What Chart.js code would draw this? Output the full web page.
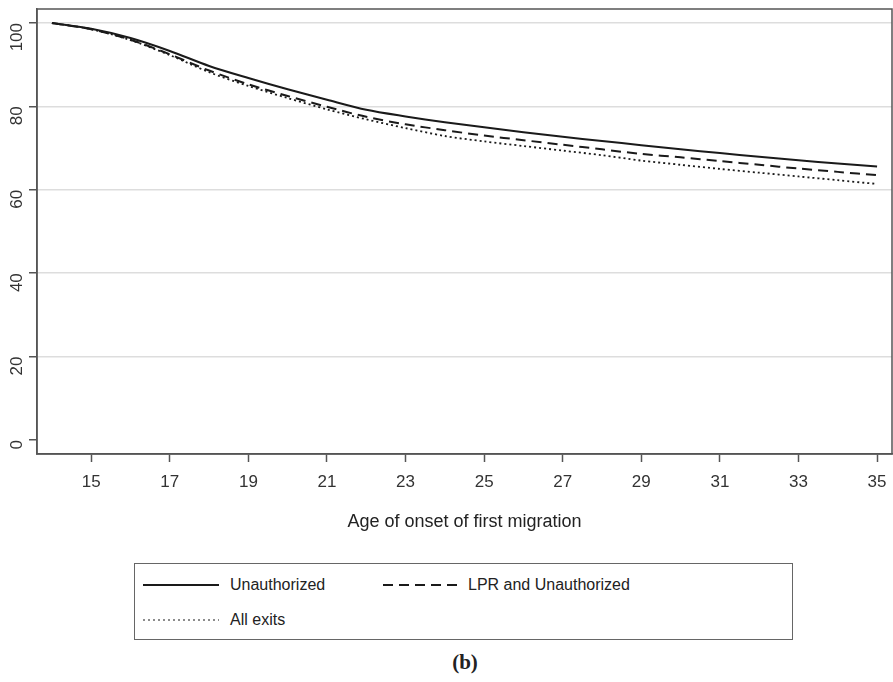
<!DOCTYPE html>
<html>
<head>
<meta charset="utf-8">
<script src="https://cdn.jsdelivr.net/npm/chart.js@4.4.1/dist/chart.umd.min.js"></script>
<style>
  body { margin: 0; background: #fff; font-family: "Liberation Sans", Arial, sans-serif; }
  #wrap { position: relative; width: 893px; height: 682px; }
  #chart { position: absolute; left: 0; top: 0; }
  #legend { position: absolute; left: 134px; top: 563px; width: 659px; height: 77px;
    border: 1px solid #666; box-sizing: border-box; }
  .item { position: absolute; font-size: 16px; color: #222; line-height: 20px; }
  .item svg { position: absolute; top: 0; }
  #caption { position: absolute; left: 0; width: 930px; top: 650px; text-align: center;
    font-family: "Liberation Serif", "Times New Roman", serif; font-weight: bold; font-size: 21px; color: #222; }
</style>
</head>
<body>
<div id="wrap">
  <canvas id="chart" width="893" height="545"></canvas>
  <div id="legend"></div>
  <div id="caption">(b)</div>
</div>
<script>
const ages = [14, 15, 16, 17, 18, 19, 20, 21, 22, 23, 24, 25, 26, 27, 28, 29, 30, 31, 32, 33, 34, 35];
const unauthorized = [100, 98.6, 96.4, 93.3, 89.7, 86.8, 84.1, 81.6, 79.2, 77.6, 76.2, 75.0, 73.8, 72.7, 71.7, 70.7, 69.7, 68.8, 67.9, 67.1, 66.3, 65.6];
const lprUnauthorized = [100, 98.5, 96.0, 92.5, 88.6, 85.3, 82.5, 79.9, 77.5, 75.7, 74.3, 73.0, 71.9, 70.8, 69.7, 68.6, 67.8, 66.9, 66.0, 65.1, 64.3, 63.5];
const allExits = [100, 98.5, 95.9, 92.3, 88.2, 84.9, 82.0, 79.3, 76.9, 74.8, 72.9, 71.6, 70.5, 69.4, 68.3, 67.0, 66.0, 65.0, 64.1, 63.2, 62.3, 61.4];

const xTicks = [15, 17, 19, 21, 23, 25, 27, 29, 31, 33, 35];
const yTicks = [0, 20, 40, 60, 80, 100];

const seriesNames = ["Unauthorized", "LPR and Unauthorized", "All exits"];
const seriesDash = [[], [10, 6], [2, 3]];

const toPoints = (vals) => vals.map((v, i) => ({ x: ages[i], y: v }));

const frame = {
  id: "frame",
  afterDraw(chart) {
    const { ctx, chartArea: a } = chart;
    ctx.save();
    ctx.strokeStyle = "#555";
    ctx.lineWidth = 1.5;
    ctx.strokeRect(a.left, a.top, a.right - a.left, a.bottom - a.top);
    ctx.restore();
  },
};

new Chart(document.getElementById("chart"), {
  type: "line",
  data: {
    datasets: [unauthorized, lprUnauthorized, allExits].map((vals, i) => ({
      label: seriesNames[i],
      data: toPoints(vals),
      borderColor: "#1a1a1a",
      borderWidth: i === 2 ? 1.8 : 2,
      borderDash: seriesDash[i],
      pointRadius: 0,
      tension: 0.3,
      fill: false,
    })),
  },
  options: {
    responsive: false,
    animation: false,
    layout: { padding: { top: 9, right: 1, left: 0, bottom: 0 } },
    plugins: { legend: { display: false }, tooltip: { enabled: false } },
    scales: {
      x: {
        type: "linear",
        min: 13.62,
        max: 35.38,
        afterBuildTicks: (s) => { s.ticks = xTicks.map((v) => ({ value: v })); },
        afterFit: (s) => { s.height = 91; s.paddingLeft = 0; s.paddingRight = 0; },
        border: { color: "#555", width: 1.5 },
        grid: { drawOnChartArea: false, drawTicks: true, tickLength: 8, tickColor: "#555", tickWidth: 1.5 },
        ticks: { color: "#333", font: { family: "Liberation Sans", size: 17 }, padding: 10, maxRotation: 0 },
        title: { display: true, text: "Age of onset of first migration", color: "#222",
          font: { family: "Liberation Sans", size: 18 }, padding: { top: 8, bottom: 12 } },
      },
      y: {
        min: -3.36,
        max: 103.36,
        afterBuildTicks: (s) => { s.ticks = yTicks.map((v) => ({ value: v })); },
        afterFit: (s) => { s.width = 37; s.paddingTop = 0; s.paddingBottom = 0; },
        border: { color: "#555", width: 1.5 },
        grid: {
          color: (c) => (c.tick && c.tick.value === 0 ? "rgba(0,0,0,0)" : "#ddd"),
          lineWidth: 1.5,
          drawTicks: true, tickLength: 8, tickColor: "#555", tickWidth: 1.5,
        },
        ticks: { color: "#333", font: { family: "Liberation Sans", size: 17 }, padding: 12, minRotation: 90, maxRotation: 90 },
      },
    },
  },
  plugins: [frame],
});

// legend box below the plot
const legend = document.getElementById("legend");
const legendPos = [
  { left: 8, top: 11, textLeft: 95 },
  { left: 248, top: 11, textLeft: 333 },
  { left: 8, top: 46, textLeft: 95 },
];
seriesNames.forEach((name, i) => {
  const p = legendPos[i];
  const item = document.createElement("div");
  item.className = "item";
  item.style.left = p.left + "px";
  item.style.top = p.top + "px";
  const dash = seriesDash[i].join(",");
  item.innerHTML = `<svg width="78" height="20" style="left:0"><line x1="0" y1="10" x2="76" y2="10" stroke="#1a1a1a" stroke-width="${i === 2 ? 1.2 : 2}" stroke-dasharray="${dash || "none"}"/></svg><span style="position:absolute;left:${p.textLeft - p.left}px;white-space:nowrap">${name}</span>`;
  legend.appendChild(item);
});
</script>
</body>
</html>
